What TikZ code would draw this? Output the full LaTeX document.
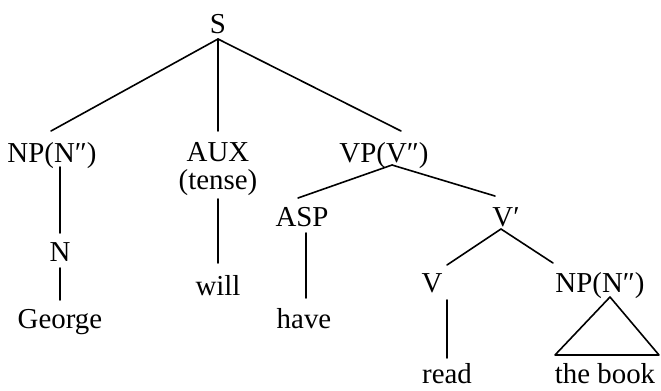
\documentclass[tikz,border=0pt]{standalone}
\usepackage{fontspec}
\setmainfont{Liberation Serif}
\begin{document}
\begin{tikzpicture}[x=1bp,y=-1bp,
  lab/.style={inner sep=0pt, anchor=base, font=\fontsize{29}{34}\selectfont},
  br/.style={line width=1.6bp, line cap=round, line join=round}]
\useasboundingbox (0,0) rectangle (661,390);
\node[lab] (S) at (218,33) {S};
\node[lab] (NP1) at (52,162) {NP(N″)};
\node[lab] (AUX) at (218,161) {AUX};
\node[lab] (tense) at (218,189) {(tense)};
\node[lab] (VP) at (384,162) {VP(V″)};
\node[lab] (N) at (60,261) {N};
\node[lab] (George) at (60,328) {George};
\node[lab] (will) at (218,295) {will};
\node[lab] (ASP) at (302,226) {ASP};
\node[lab] (have) at (304,328) {have};
\node[lab] (Vbar) at (506,226) {V′};
\node[lab] (V) at (432,292) {V};
\node[lab] (NP2) at (600,292) {NP(N″)};
\node[lab] (read) at (447,383) {read};
\node[lab] (book) at (605,383) {the book};
% S
\draw[br] ([yshift=-6bp]S.base) -- ([xshift=-1bp,yshift=31bp]NP1.base);
\draw[br] ([yshift=-6bp]S.base) -- ([yshift=30bp]AUX.base);
\draw[br] ([yshift=-6bp]S.base) -- ([xshift=17bp,yshift=31bp]VP.base);
% NP subject
\draw[br] ([xshift=8bp,yshift=-5bp]NP1.base) -- ([yshift=28bp]N.base);
\draw[br] ([yshift=-7bp]N.base) -- ([yshift=28bp]George.base);
% AUX
\draw[br] ([yshift=-10bp]tense.base) -- ([yshift=32bp]will.base);
% VP
\draw[br] ([xshift=8bp,yshift=-3bp]VP.base) -- ([xshift=-4bp,yshift=28bp]ASP.base);
\draw[br] ([xshift=8bp,yshift=-3bp]VP.base) -- ([xshift=-11bp,yshift=30bp]Vbar.base);
\draw[br] ([xshift=4bp,yshift=-7bp]ASP.base) -- ([xshift=2bp,yshift=30bp]have.base);
% V'
\draw[br] ([xshift=-5bp,yshift=-3bp]Vbar.base) -- ([xshift=15bp,yshift=27bp]V.base);
\draw[br] ([xshift=-5bp,yshift=-3bp]Vbar.base) -- ([xshift=-47bp,yshift=29bp]NP2.base);
\draw[br] ([xshift=15bp,yshift=-8bp]V.base) -- ([yshift=25bp]read.base);
% triangle
\draw[br] ([xshift=10bp,yshift=-5bp]NP2.base) -- ([xshift=-50bp,yshift=28bp]book.base) -- ([xshift=54bp,yshift=28bp]book.base) -- cycle;
\end{tikzpicture}
\end{document}
